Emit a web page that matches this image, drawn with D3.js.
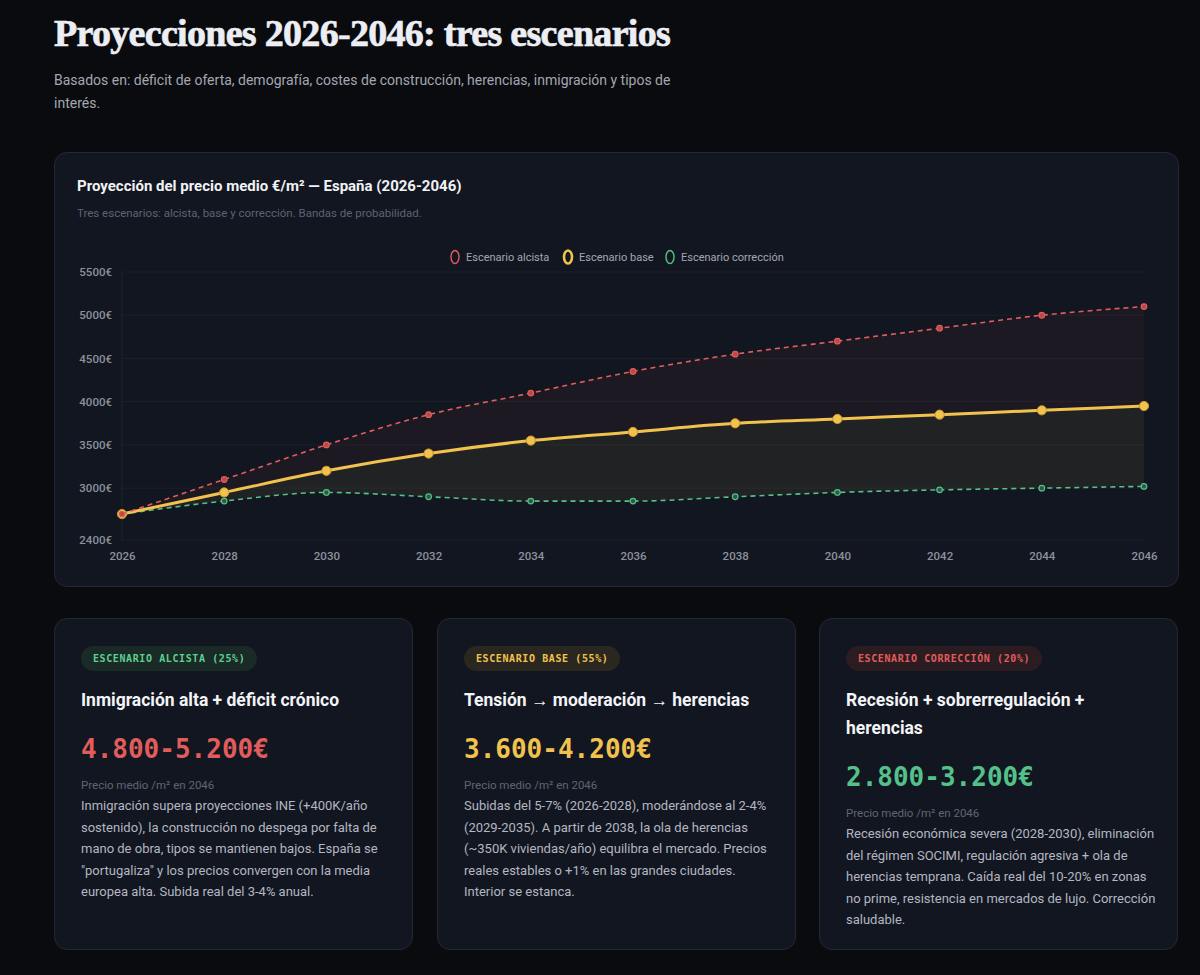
<!DOCTYPE html>
<html lang="es">
<head>
<meta charset="utf-8">
<script src="https://cdn.jsdelivr.net/npm/d3@7"></script>
<style>
  html, body { margin: 0; padding: 0; }
  body {
    background: #0a0b0f;
    width: 1200px; height: 975px; overflow: hidden;
    font-family: Roboto, "Noto Sans", sans-serif;
    color: #e8e9ee;
    position: relative;
  }
  h1 {
    position: absolute; left: 54px; top: 11px; margin: 0;
    font-family: "Liberation Serif", serif; font-weight: 700;
    font-size: 38px; letter-spacing: -0.7px; color: #eceef3;
    -webkit-text-stroke: 0.7px #eceef3;
  }
  .lead {
    position: absolute; left: 54px; top: 69px; margin: 0;
    font-size: 14px; line-height: 23px; color: #a3a7b3; white-space: nowrap;
  }
  .card {
    position: absolute; background: #121620; border: 1px solid #232835;
    border-radius: 13px; box-sizing: border-box;
  }
  #chartCard { left: 54px; top: 152px; width: 1125px; height: 435px; }
  #chartCard .ct { position: absolute; left: 22px; top: 24px; font-size: 15px; font-weight: 700; color: #f1f2f5; }
  #chartCard .cs { position: absolute; left: 22px; top: 53px; font-size: 11.5px; color: #5d6372; }
  #chart { position: absolute; left: 22px; top: 88px; }
  .sc { top: 618px; width: 359px; height: 332px; padding: 27px 26px; }
  .badge {
    display: inline-block; height: 25px; line-height: 25px; padding: 0 12px;
    border-radius: 13px; font-family: "DejaVu Sans Mono", monospace; font-weight: 700;
    font-size: 10px; letter-spacing: 0.6px;
  }
  .sc h3 { margin: 15px 0 0; font-size: 17.5px; line-height: 28px; font-weight: 700; color: #f3f4f7; }
  .num { margin-top: 19px; font-family: "DejaVu Sans Mono", monospace; font-weight: 700; font-size: 26px; line-height: 32px; }
  .lbl { margin-top: 12px; font-size: 11.5px; line-height: 16px; color: #5f6574; }
  .desc { margin-top: 2px; font-size: 13px; line-height: 21.5px; color: #b3b7c1; white-space: nowrap; }
</style>
</head>
<body>
<h1>Proyecciones 2026-2046: tres escenarios</h1>
<p class="lead">Basados en: déficit de oferta, demografía, costes de construcción, herencias, inmigración y tipos de<br>interés.</p>

<div class="card" id="chartCard">
  <div class="ct">Proyección del precio medio €/m² — España (2026-2046)</div>
  <div class="cs">Tres escenarios: alcista, base y corrección. Bandas de probabilidad.</div>
  <svg id="chart" width="1081" height="335"></svg>
</div>

<div id="cards"></div>

<script>
// datos del gráfico
const years = [2026, 2028, 2030, 2032, 2034, 2036, 2038, 2040, 2042, 2044, 2046];
const alcista = [2700, 3100, 3500, 3850, 4100, 4350, 4550, 4700, 4850, 5000, 5100];
const base = [2700, 2950, 3200, 3400, 3550, 3650, 3750, 3800, 3850, 3900, 3950];
const correccion = [2700, 2850, 2950, 2900, 2850, 2850, 2900, 2950, 2980, 3000, 3020];
const yTicks = [2400, 3000, 3500, 4000, 4500, 5000, 5500];
const seriesNames = ["Escenario alcista", "Escenario base", "Escenario corrección"];

// tarjetas de escenarios
const badges = ["Escenario alcista (25%)", "Escenario base (55%)", "Escenario corrección (20%)"];
const headings = ["Inmigración alta + déficit crónico", "Tensión → moderación → herencias", "Recesión + sobrerregulación +<br>herencias"];
const ranges = ["4.800-5.200€", "3.600-4.200€", "2.800-3.200€"];
const descs = [
  ["Inmigración supera proyecciones INE (+400K/año", "sostenido), la construcción no despega por falta de", "mano de obra, tipos se mantienen bajos. España se", "\"portugaliza\" y los precios convergen con la media", "europea alta. Subida real del 3-4% anual."],
  ["Subidas del 5-7% (2026-2028), moderándose al 2-4%", "(2029-2035). A partir de 2038, la ola de herencias", "(~350K viviendas/año) equilibra el mercado. Precios", "reales estables o +1% en las grandes ciudades.", "Interior se estanca."],
  ["Recesión económica severa (2028-2030), eliminación", "del régimen SOCIMI, regulación agresiva + ola de", "herencias temprana. Caída real del 10-20% en zonas", "no prime, resistencia en mercados de lujo. Corrección", "saludable."]
];

const RED = "#e05d5b", YEL = "#f2c24f", GRN = "#55c08a";
const badgeStyle = [
  { c: "#5fcf8f", bg: "#1a2a26" },
  { c: "#f2c24f", bg: "#2a2720" },
  { c: "#e05d5b", bg: "#2a1c21" }
];
const numColor = [RED, YEL, GRN];

const cards = d3.select("#cards");
badges.forEach((b, i) => {
  const c = cards.append("div").attr("class", "card sc")
    .style("left", [54, 437, 819][i] + "px");
  c.append("span").attr("class", "badge")
    .style("color", badgeStyle[i].c).style("background", badgeStyle[i].bg)
    .text(b.toUpperCase());
  c.append("h3").html(headings[i]);
  c.append("div").attr("class", "num").style("color", numColor[i]).text(ranges[i]);
  c.append("div").attr("class", "lbl").text("Precio medio /m² en 2046");
  c.append("div").attr("class", "desc").html(descs[i].join("<br>"));
});

// gráfico
const svg = d3.select("#chart");
const margin = { top: 31, right: 14, bottom: 36, left: 45 };
const width = +svg.attr("width") - margin.left - margin.right;
const height = +svg.attr("height") - margin.top - margin.bottom;
const g = svg.append("g").attr("transform", `translate(${margin.left},${margin.top})`);

const x = d3.scalePoint().domain(years).range([0, width]);
const y = d3.scaleLinear().domain([2400, 5500]).range([height, 0]);

// rejilla
g.append("g").selectAll("line").data(yTicks).join("line")
  .attr("x1", 0).attr("x2", width)
  .attr("y1", d => y(d)).attr("y2", d => y(d))
  .attr("stroke", "rgba(255,255,255,0.045)");
g.append("line").attr("x1", 0).attr("x2", 0).attr("y1", 0).attr("y2", height)
  .attr("stroke", "rgba(255,255,255,0.06)");

const yAxis = g.append("g")
  .call(d3.axisLeft(y).tickValues(yTicks).tickFormat(d => d + "€").tickSize(0).tickPadding(10));
yAxis.select(".domain").remove();
yAxis.selectAll("text").attr("fill", "#8c919d").attr("font-size", "11.5px")
  .attr("font-family", "Roboto, sans-serif").attr("font-weight", 500);

const xAxis = g.append("g").attr("transform", `translate(0,${height})`)
  .call(d3.axisBottom(x).tickSize(0).tickPadding(12));
xAxis.select(".domain").remove();
xAxis.selectAll("text").attr("fill", "#8c919d").attr("font-size", "11.5px")
  .attr("font-family", "Roboto, sans-serif").attr("font-weight", 500);

const curve = d3.curveMonotoneX;
const idx = d3.range(years.length);

// bandas
g.append("path").datum(idx)
  .attr("d", d3.area().curve(curve).x(i => x(years[i])).y0(i => y(base[i])).y1(i => y(alcista[i])))
  .attr("fill", RED).attr("fill-opacity", 0.055);
g.append("path").datum(idx)
  .attr("d", d3.area().curve(curve).x(i => x(years[i])).y0(i => y(correccion[i])).y1(i => y(base[i])))
  .attr("fill", YEL).attr("fill-opacity", 0.07);

const line = vals => d3.line().curve(curve).x((d, i) => x(years[i])).y(d => y(d))(vals);

// corrección
g.append("path").attr("d", line(correccion)).attr("fill", "none")
  .attr("stroke", GRN).attr("stroke-width", 1.6).attr("stroke-dasharray", "5,4");
g.append("g").selectAll("circle").data(correccion).join("circle")
  .attr("cx", (d, i) => x(years[i])).attr("cy", d => y(d)).attr("r", 2.8)
  .attr("fill", "#2c5a44").attr("stroke", GRN).attr("stroke-width", 1.2);

// base
g.append("path").attr("d", line(base)).attr("fill", "none")
  .attr("stroke", YEL).attr("stroke-width", 3);
g.append("g").selectAll("circle").data(base).join("circle")
  .attr("cx", (d, i) => x(years[i])).attr("cy", d => y(d)).attr("r", 4.6)
  .attr("fill", YEL).attr("stroke", "#c99a2e").attr("stroke-width", 1);

// alcista
g.append("path").attr("d", line(alcista)).attr("fill", "none")
  .attr("stroke", RED).attr("stroke-width", 1.6).attr("stroke-dasharray", "5,4");
g.append("g").selectAll("circle").data(alcista).join("circle")
  .attr("cx", (d, i) => x(years[i])).attr("cy", d => y(d)).attr("r", 2.8)
  .attr("fill", "#b84a4a").attr("stroke", RED).attr("stroke-width", 1.2);

// leyenda
const legendX = [378, 491, 593];
const legendColors = [RED, YEL, GRN];
const legend = svg.append("g").attr("transform", "translate(0,16)");
seriesNames.forEach((name, i) => {
  legend.append("ellipse").attr("cx", legendX[i]).attr("cy", 0).attr("rx", 4).attr("ry", 6.5)
    .attr("fill", "none").attr("stroke", legendColors[i]).attr("stroke-width", i === 1 ? 2.6 : 1.4);
  legend.append("text").attr("x", legendX[i] + 11).attr("y", 4)
    .attr("fill", "#a3a7b2").attr("font-size", "11px").attr("font-family", "Roboto, sans-serif")
    .text(name);
});
</script>
</body>
</html>
